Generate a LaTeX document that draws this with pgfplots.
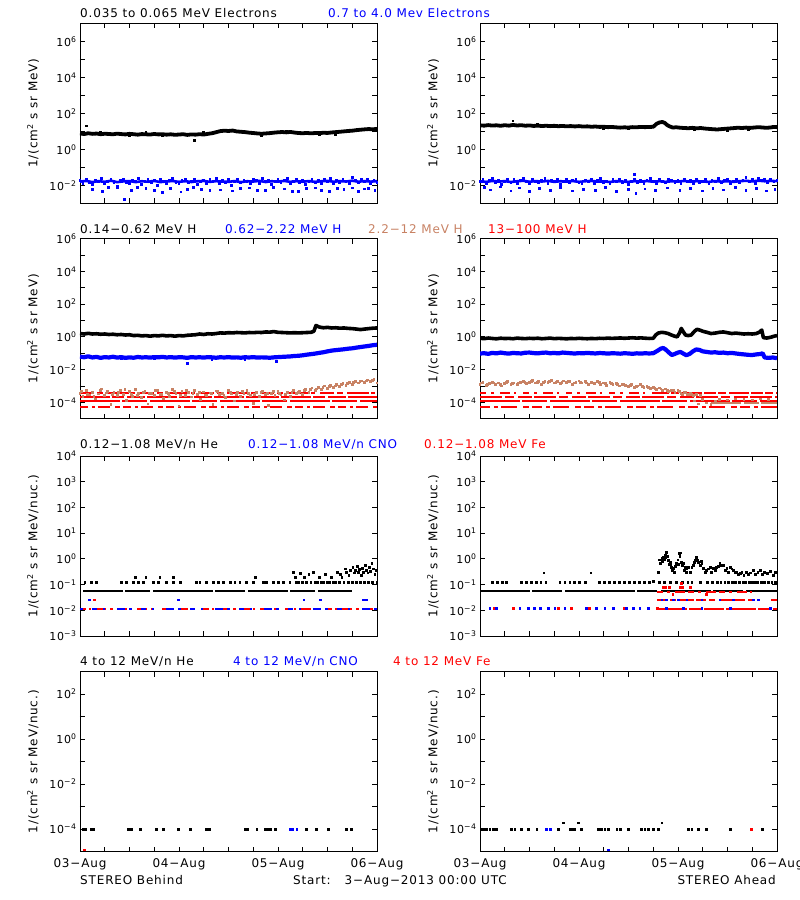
\documentclass[border=0pt]{standalone}
\usepackage{fontspec}
\setmainfont{DejaVu Sans}[LetterSpace=7]
\usepackage{pgfplots}
\pgfplotsset{compat=1.18}
\definecolor{brn}{RGB}{200,130,100}
\newcommand{\tf}{\fontsize{12}{14}\selectfont}
\newcommand{\tfs}{\fontsize{11}{13}\selectfont}
\pgfplotsset{
  myPanel/.style={scale only axis, width=297pt, height=180pt, xmin=0, xmax=72,
    xtick={0,24,48,72}, minor xtick={6,12,18,30,36,42,54,60,66}, xticklabels={},
    tick align=inside, major tick length=5pt, minor tick length=5pt,
    axis line style={line width=0.9pt}, tick style={black, line width=0.9pt},
    x tick label style={font=\tf}, y tick label style={font=\tfs}, label style={font=\tf},
    ylabel style={at={(axis description cs:-0.158,0.5)}, anchor=center},
    anchor=south west, clip=true},
  myDots/.style={only marks, mark=square*, mark size=0.9pt, mark options={line width=0pt}},
  myBand/.style={line width=#1, line join=round, line cap=butt},
  myRowA/.style={ymin=1e-3, ymax=1e7, ytick={1e-2,1,1e2,1e4,1e6}, minor ytick={1e-1,10,1e3,1e5},
    yticklabels={10\textsuperscript{−2},10\textsuperscript{0},10\textsuperscript{2},10\textsuperscript{4},10\textsuperscript{6}},
    ylabel={1/(cm\textsuperscript{2} s sr MeV)}},
  myRowB/.style={ymin=1e-5, ymax=1e6, ytick={1e-4,1e-2,1,1e2,1e4,1e6}, minor ytick={1e-3,1e-1,10,1e3,1e5},
    yticklabels={10\textsuperscript{−4},10\textsuperscript{−2},10\textsuperscript{0},10\textsuperscript{2},10\textsuperscript{4},10\textsuperscript{6}},
    ylabel={1/(cm\textsuperscript{2} s sr MeV)}},
  myRowC/.style={ymin=1e-3, ymax=1e4, ytick={1e-3,1e-2,1e-1,1,10,1e2,1e3,1e4}, yminorticks=false,
    yticklabels={10\textsuperscript{−3},10\textsuperscript{−2},10\textsuperscript{−1},10\textsuperscript{0},10\textsuperscript{1},10\textsuperscript{2},10\textsuperscript{3},10\textsuperscript{4}},
    ylabel={1/(cm\textsuperscript{2} s sr MeV/nuc.)}},
  myRowD/.style={ymin=1e-5, ymax=1e3, ytick={1e-4,1e-2,1,1e2}, minor ytick={1e-3,1e-1,10},
    yticklabels={10\textsuperscript{−4},10\textsuperscript{−2},10\textsuperscript{0},10\textsuperscript{2}},
    ylabel={1/(cm\textsuperscript{2} s sr MeV/nuc.)},
    xticklabels={03−Aug,04−Aug,05−Aug,06−Aug}, x tick label style={yshift=-3pt}},
}
\begin{document}
\begin{tikzpicture}[font=\tf]
\useasboundingbox (0,0) rectangle (800pt,900pt);

% ---------- titles ----------
\node[anchor=base west, inner sep=0pt] at (80pt,882.7pt) {0.035 to 0.065 MeV Electrons};
\node[anchor=base west, inner sep=0pt, text=blue] at (328pt,882.7pt) {0.7 to 4.0 Mev Electrons};
\node[anchor=base west, inner sep=0pt] at (80pt,666.7pt) {0.14−0.62 MeV H};
\node[anchor=base west, inner sep=0pt, text=blue] at (225pt,666.7pt) {0.62−2.22 MeV H};
\node[anchor=base west, inner sep=0pt, text=brn] at (368pt,666.7pt) {2.2−12 MeV H};
\node[anchor=base west, inner sep=0pt, text=red] at (488pt,666.7pt) {13−100 MeV H};
\node[anchor=base west, inner sep=0pt] at (80pt,451pt) {0.12−1.08 MeV/n He};
\node[anchor=base west, inner sep=0pt, text=blue] at (248pt,451pt) {0.12−1.08 MeV/n CNO};
\node[anchor=base west, inner sep=0pt, text=red] at (424pt,451pt) {0.12−1.08 MeV Fe};
\node[anchor=base west, inner sep=0pt] at (80pt,234pt) {4 to 12 MeV/n He};
\node[anchor=base west, inner sep=0pt, text=blue] at (233pt,234pt) {4 to 12 MeV/n CNO};
\node[anchor=base west, inner sep=0pt, text=red] at (393pt,234pt) {4 to 12 MeV Fe};
\node[anchor=base west, inner sep=0pt] at (80pt,15pt) {STEREO Behind};
\node[anchor=base west, inner sep=0pt] at (293pt,15pt) {Start:\ \ \ 3−Aug−2013 00:00 UTC};
\node[anchor=base east, inner sep=0pt] at (776pt,15pt) {STEREO Ahead};

% ---------- Row 1 left: Behind electrons ----------
\begin{axis}[ymode=log, myPanel, myRowA, at={(80pt,696.7pt)}]
\addplot[black, myBand=3.8pt] coordinates {(0,7.6)(1,7.0)(2,7.8)(3,7.2)(4,7.5)(5,6.9)(6,7.3)(7,7.1)(8,6.8)(9,7.4)(10,7.0)(11,6.7)(12,7.2)(13,6.9)(14,6.5)(15,7.0)(16,6.8)(17,6.6)(18,7.1)(19,6.7)(20,6.9)(21,6.5)(22,6.8)(23,6.4)(24,6.6)(25,6.9)(26,6.3)(27,6.7)(28,6.5)(29,6.9)(30,6.6)(31,7.2)(32,7.8)(33,8.9)(34,10.2)(35,10.8)(36,10.4)(37,11.0)(38,9.8)(39,9.4)(40,9.0)(41,8.4)(42,8.0)(43,7.6)(44,7.3)(45,7.6)(46,7.9)(47,8.4)(48,8.8)(49,9.1)(50,8.7)(51,9.2)(52,8.5)(53,8.0)(54,7.8)(55,8.1)(56,7.7)(57,8.0)(58,7.9)(59,8.3)(60,8.1)(61,8.6)(62,9.0)(63,9.4)(64,9.9)(65,10.4)(66,10.8)(67,11.6)(68,12.2)(69,12.8)(70,13.3)(71,12.9)(72,13.6)};
\addplot[black, myDots] coordinates {(1.5,19.6)(27.7,3.0)(12,5.6)(20,5.5)(44,6.0)(58,6.3)(5,9.0)(16,8.6)(30,8.4)(50,10.5)(62,6.8)};
\addplot[blue, myBand=2.6pt] coordinates {(0,.016)(1.5,.0175)(3,.015)(4.5,.017)(6,.0155)(7.5,.018)(9,.015)(10.5,.0165)(12,.0172)(13.5,.015)(15,.0168)(16.5,.0158)(18,.0175)(19.5,.015)(21,.0165)(22.5,.0172)(24,.0155)(25.5,.017)(27,.0152)(28.5,.0168)(30,.0175)(31.5,.0155)(33,.017)(34.5,.016)(36,.0155)(37.5,.0172)(39,.015)(40.5,.0168)(42,.0162)(43.5,.0175)(45,.0152)(46.5,.0168)(48,.016)(49.5,.0175)(51,.0155)(52.5,.017)(54,.0158)(55.5,.0172)(57,.0155)(58.5,.0168)(60,.0175)(61.5,.0158)(63,.017)(64.5,.0162)(66,.018)(67.5,.0158)(69,.0172)(70.5,.016)(72,.017)};
\addplot[blue, myDots] coordinates {(0,.018)(.75,.013)(1.5,.021)(2.25,.015)(3,.011)(3.75,.019)(4.5,.016)(5.25,.023)(6,.012)(6.75,.017)(7.5,.020)(8.25,.014)(9,.009)(9.75,.018)(10.5,.022)(11.25,.015)(12,.013)(12.75,.019)(13.5,.016)(14.25,.024)(15,.011)(15.75,.017)(16.5,.020)(17.25,.014)(18,.018)(18.75,.010)(19.5,.021)(20.25,.016)(21,.013)(21.75,.019)(22.5,.023)(23.25,.015)(24,.012)(24.75,.018)(25.5,.020)(26.25,.014)(27,.017)(27.75,.022)(28.5,.011)(29.25,.016)(30,.019)(30.75,.013)(31.5,.021)(32.25,.017)(33,.024)(33.75,.012)(34.5,.018)(35.25,.015)(36,.020)(36.75,.010)(37.5,.017)(38.25,.022)(39,.014)(39.75,.019)(40.5,.016)(41.25,.012)(42,.021)(42.75,.018)(43.5,.013)(44.25,.023)(45,.016)(45.75,.019)(46.5,.011)(47.25,.017)(48,.021)(48.75,.014)(49.5,.018)(50.25,.025)(51,.012)(51.75,.016)(52.5,.020)(53.25,.015)(54,.019)(54.75,.011)(55.5,.017)(56.25,.022)(57,.014)(57.75,.018)(58.5,.013)(59.25,.020)(60,.016)(60.75,.024)(61.5,.012)(62.25,.018)(63,.015)(63.75,.021)(64.5,.017)(65.25,.013)(66,.026)(66.75,.019)(67.5,.014)(68.25,.022)(69,.016)(69.75,.020)(70.5,.012)(71.25,.018)(72,.015)
(3,.006)(5.5,.0045)(7,.0075)(9,.007)(10.7,.0017)(12.5,.005)(14,.0072)(16,.0068)(18,.0052)(20,.004)(22,.0065)(24.5,.0042)(26,.0058)(27.5,.0072)(29.5,.006)(31.5,.0049)(34,.0055)(37,.0048)(39,.0066)(41,.007)(43,.0054)(45,.005)(47,.0072)(49.5,.0062)(51.5,.0047)(53,.0045)(55,.0068)(57,.007)(58.5,.0052)(60.5,.0044)(62.5,.0066)(64,.0058)(66,.0071)(67.5,.0046)(69,.0063)(70,.0065)(71.5,.0052)};
\end{axis}

% ---------- Row 1 right: Ahead electrons ----------
\begin{axis}[ymode=log, myPanel, myRowA, at={(480pt,696.7pt)}]
\addplot[black, myBand=3.8pt] coordinates {(0,21.5)(1,20.5)(2,22)(3,20.8)(4,21.5)(5,20.2)(6,21.8)(7,20.6)(8,22.5)(9,21)(10,21.8)(11,20.4)(12,21.2)(13,19.8)(14,20.6)(15,19.6)(16,20.3)(17,19.4)(18,20.1)(19,19.2)(20,19.8)(21,18.9)(22,19.5)(23,18.6)(24,19.4)(25,18.3)(26,18.8)(27,17.9)(28,18.4)(29,17.5)(30,17.9)(31,17.0)(32,17.4)(33,16.6)(34,16.0)(35,16.6)(36,16.2)(37,17.0)(38,16.8)(39,17.5)(40,17.0)(41,17.4)(42,17.8)(42.8,26)(43.5,31)(44.2,33)(44.8,29)(45.4,22)(46,18.5)(46.8,16)(47.5,16.8)(48.5,15.8)(49.5,15.2)(50.5,14.8)(51.5,15.5)(52.5,14.6)(53.5,15.2)(54.5,14.2)(55.5,13.6)(56.5,13.0)(57.5,12.6)(58.5,13.2)(59.5,13.8)(60.5,14.4)(61.5,15.0)(62.5,15.8)(63.5,15.2)(64.5,16.0)(65.5,15.4)(66.5,16.2)(67.5,17.0)(68.5,16.2)(69.5,15.6)(70.5,16.4)(71.2,17.5)(72,17)};
\addplot[black, myDots] coordinates {(8,37)(30,13.5)(52,12.0)(60,11.5)(14,24)(36,14)(65,13)};
\addplot[blue, myBand=2.6pt] coordinates {(0,.0165)(1.5,.0155)(3,.0175)(4.5,.016)(6,.017)(7.5,.0152)(9,.0168)(10.5,.0178)(12,.0158)(13.5,.017)(15,.0162)(16.5,.0175)(18,.0155)(19.5,.0168)(21,.016)(22.5,.0172)(24,.0155)(25.5,.0168)(27,.0175)(28.5,.016)(30,.0165)(31.5,.0152)(33,.017)(34.5,.0162)(36,.0155)(37.5,.017)(39,.016)(40.5,.0172)(42,.0158)(43.5,.017)(45,.0155)(46.5,.0168)(48,.016)(49.5,.0175)(51,.0158)(52.5,.017)(54,.0162)(55.5,.0155)(57,.0172)(58.5,.016)(60,.0168)(61.5,.0155)(63,.017)(64.5,.0178)(66,.0165)(67.5,.018)(69,.0168)(70.5,.0175)(72,.017)};
\addplot[blue, myDots] coordinates {(0,.016)(.75,.021)(1.5,.012)(2.25,.018)(3,.024)(3.75,.014)(4.5,.019)(5.25,.011)(6,.017)(6.75,.022)(7.5,.015)(8.25,.020)(9,.013)(9.75,.018)(10.5,.025)(11.25,.016)(12,.012)(12.75,.021)(13.5,.017)(14.25,.014)(15,.019)(15.75,.023)(16.5,.013)(17.25,.018)(18,.016)(18.75,.021)(19.5,.011)(20.25,.017)(21,.020)(21.75,.014)(22.5,.018)(23.25,.022)(24,.015)(24.75,.012)(25.5,.019)(26.25,.016)(27,.021)(27.75,.013)(28.5,.018)(29.25,.024)(30,.015)(30.75,.017)(31.5,.012)(32.25,.020)(33,.016)(33.75,.022)(34.5,.014)(35.25,.018)(36,.011)(36.75,.017)(37.5,.021)(38.25,.015)(39,.019)(39.75,.013)(40.5,.018)(41.25,.023)(42,.016)(42.75,.012)(43.5,.020)(44.25,.017)(45,.014)(45.75,.021)(46.5,.018)(47.25,.015)(48,.019)(48.75,.013)(49.5,.022)(50.25,.016)(51,.018)(51.75,.012)(52.5,.020)(53.25,.015)(54,.017)(54.75,.021)(55.5,.013)(56.25,.019)(57,.016)(57.75,.023)(58.5,.014)(59.25,.018)(60,.020)(60.75,.012)(61.5,.017)(62.25,.022)(63,.015)(63.75,.019)(64.5,.026)(65.25,.016)(66,.021)(66.75,.013)(67.5,.024)(68.25,.018)(69,.020)(69.75,.015)(70.5,.022)(71.25,.017)(72,.019)
(1,.0075)(2.5,.0055)(5,.008)(7.5,.0048)(9.5,.007)(12,.0045)(14.5,.0065)(17,.005)(19.5,.0072)(22.5,.0048)(25,.006)(28,.0052)(30.5,.0075)(33,.0046)(36,.0058)(37.5,.04)(37.8,.0036)(40,.0062)(42.5,.005)(45.5,.007)(48.5,.0052)(51,.0066)(54,.0048)(56.5,.0068)(59,.0055)(62,.0072)(64.5,.005)(67,.0064)(69.5,.0048)(71.5,.0058)};
\end{axis}

% ---------- Row 2 left: Behind H ----------
\begin{axis}[ymode=log, myPanel, myRowB, at={(80pt,481.3pt)}]
\addplot[red, line width=2pt, dash pattern=on 14pt off 3pt on 6pt off 4pt on 22pt off 2pt on 4pt off 5pt] coordinates {(0,3.8e-4)(72,3.8e-4)};
\addplot[red, line width=2pt, dash pattern=on 30pt off 2pt on 12pt off 3pt on 18pt off 2pt] coordinates {(0,2e-4)(72,2e-4)};
\addplot[red, line width=2pt, dash pattern=on 40pt off 2pt on 25pt off 3pt] coordinates {(0,1.2e-4)(72,1.2e-4)};
\addplot[red, line width=2pt, dash pattern=on 8pt off 4pt on 3pt off 3pt on 12pt off 5pt on 5pt off 3pt] coordinates {(0,5.3e-5)(72,5.3e-5)};
\addplot[brn, myDots] coordinates {(0,3.5e-4)(.75,2.2e-4)(1.5,5.5e-4)(2.25,2.8e-4)(3,4.2e-4)(3.75,1.6e-4)(4.5,3.2e-4)(5.25,6.5e-4)(6,2.5e-4)(6.75,4.8e-4)(7.5,7e-5)(8.25,3.8e-4)(9,2.6e-4)(9.75,5e-4)(10.5,3e-4)(11.25,1.3e-4)(12,4.4e-4)(12.75,2.4e-4)(13.5,6e-4)(14.25,3.4e-4)(15,2e-4)(15.75,4.6e-4)(16.5,8e-5)(17.25,3.6e-4)(18,2.7e-4)(18.75,5.2e-4)(19.5,3.1e-4)(20.25,1.8e-4)(21,4e-4)(21.75,2.3e-4)(22.5,5.8e-4)(23.25,3.3e-4)(24,6e-5)(24.75,4.5e-4)(25.5,2.6e-4)(26.25,3.9e-4)(27,2.1e-4)(27.75,5.4e-4)(28.5,3e-4)(29.25,1.5e-4)(30,4.3e-4)(30.75,2.5e-4)(31.5,3.7e-4)(32.25,7.5e-5)(33,4.9e-4)(33.75,2.9e-4)(34.5,3.5e-4)(35.25,2e-4)(36,5e-4)(36.75,3.2e-4)(37.5,1.2e-4)(38.25,4.1e-4)(39,2.4e-4)(39.75,3.6e-4)(40.5,5.5e-4)(41.25,2.7e-4)(42,8.5e-5)(42.75,3.8e-4)(43.5,2.2e-4)(44.25,4.6e-4)(45,3e-4)(45.75,6.5e-5)(46.5,3.4e-4)(47.25,2.5e-4)(48,4.4e-4)(48.75,2.8e-4)(49.5,1.4e-4)(50.25,3.9e-4)(51,2.3e-4)(51.75,5e-4)(52.5,3.3e-4)(53.25,4.8e-4)(54,3e-4)(54.75,6e-4)(55.5,4e-4)(56.25,7.5e-4)(57,5e-4)(57.75,8.5e-4)(58.5,6e-4)(59.25,1e-3)(60,7e-4)(60.75,1.1e-3)(61.5,8e-4)(62.25,1.2e-3)(63,9e-4)(63.75,1.4e-3)(64.5,1.1e-3)(65.25,1.7e-3)(66,1.3e-3)(66.75,1.9e-3)(67.5,1.5e-3)(68.25,2e-3)(69,1.6e-3)(69.75,2.3e-3)(70.5,1.8e-3)(71.25,2.5e-3)(72,1.5e-3)
(.4,4.5e-4)(1.9,3e-4)(3.4,2.4e-4)(4.9,5e-4)(6.4,3.7e-4)(7.9,2.9e-4)(9.4,4e-4)(10.9,5.8e-4)(12.4,3.1e-4)(13.9,2.6e-4)(15.4,4.2e-4)(16.9,3.4e-4)(18.4,5.1e-4)(19.9,2.9e-4)(21.4,3.6e-4)(22.9,4.4e-4)(24.4,2.7e-4)(25.9,5.3e-4)(27.4,3.5e-4)(28.9,4.1e-4)(30.4,2.8e-4)(31.9,3.3e-4)(33.4,4.6e-4)(34.9,2.6e-4)(36.4,3.9e-4)(37.9,3e-4)(39.4,4.7e-4)(40.9,3.4e-4)(42.4,2.9e-4)(43.9,4e-4)(45.4,3.3e-4)(46.9,4.5e-4)(48.4,3.6e-4)(49.9,3e-4)(51.4,4.2e-4)(52.9,3.9e-4)(54.4,5.2e-4)(55.9,6e-4)(57.4,6.6e-4)(58.9,8e-4)(60.4,9e-4)(61.9,1e-3)(63.4,1.2e-3)(64.9,1.4e-3)(66.4,1.6e-3)(67.9,1.8e-3)(69.4,2e-3)(70.9,2.1e-3)};
\addplot[blue, myBand=4.2pt] coordinates {(0,.062)(1,.057)(2,.065)(3,.055)(4,.060)(5,.052)(6,.058)(7,.055)(8,.061)(9,.054)(10,.058)(11,.052)(12,.056)(13,.053)(14,.059)(15,.055)(16,.057)(17,.054)(18,.058)(19,.056)(20,.060)(21,.055)(22,.058)(23,.054)(24,.057)(25,.056)(26,.052)(27,.058)(28,.055)(29,.057)(30,.054)(31,.058)(32,.056)(33,.053)(34,.057)(35,.055)(36,.058)(37,.054)(38,.056)(39,.053)(40,.057)(41,.055)(42,.058)(43,.054)(44,.056)(45,.055)(46,.053)(47,.056)(48,.058)(49,.060)(50,.062)(51,.064)(52,.068)(53,.070)(54,.075)(55,.082)(56,.088)(57,.095)(58,.105)(59,.115)(60,.13)(61,.145)(62,.155)(63,.165)(64,.175)(65,.19)(66,.20)(67,.22)(68,.24)(69,.26)(70,.28)(71,.31)(72,.33)};
\addplot[blue, myDots] coordinates {(26,.024)(47.7,.03)(32,.042)(10,.045)(18,.044)(40,.043)};
\addplot[black, myBand=3.6pt] coordinates {(0,1.6)(1,1.5)(2,1.65)(3,1.5)(4,1.55)(5,1.45)(6,1.5)(7,1.4)(8,1.45)(9,1.35)(10,1.4)(11,1.3)(12,1.35)(13,1.2)(14,1.25)(15,1.15)(16,1.2)(17,1.1)(18,1.2)(19,1.15)(20,1.25)(21,1.15)(22,1.2)(23,1.1)(24,1.2)(25,1.15)(26,1.25)(27,1.3)(28,1.35)(29,1.5)(30,1.4)(31,1.55)(32,1.5)(33,1.6)(34,1.75)(35,1.7)(36,1.8)(37,1.75)(38,1.85)(39,1.8)(40,1.75)(41,1.85)(42,1.8)(43,1.9)(44,1.85)(45,2.0)(46,1.95)(47,2.1)(48,1.9)(49,1.85)(50,1.8)(51,1.75)(52,1.8)(53,1.75)(54,1.8)(55,1.85)(56,1.9)(56.7,2.2)(57.2,5.0)(58,4.0)(59,3.6)(60,3.8)(61,3.5)(62,3.6)(63,3.4)(64,3.5)(65,3.3)(66,3.2)(67,3.0)(68,2.8)(69,3.0)(70,3.2)(71,3.4)(72,3.5)};
\end{axis}

% ---------- Row 2 right: Ahead H ----------
\begin{axis}[ymode=log, myPanel, myRowB, at={(480pt,481.3pt)}]
\addplot[red, line width=2pt, dash pattern=on 6pt off 5pt on 3pt off 6pt on 10pt off 4pt on 2pt off 7pt] coordinates {(0,3.8e-4)(43,3.8e-4)};
\addplot[red, line width=2pt, dash pattern=on 12pt off 2pt on 8pt off 3pt on 20pt off 2pt] coordinates {(43,3.8e-4)(72,3.8e-4)};
\addplot[red, line width=2pt, dash pattern=on 22pt off 3pt on 9pt off 4pt on 14pt off 2pt] coordinates {(0,2e-4)(72,2e-4)};
\addplot[red, line width=2pt, dash pattern=on 40pt off 2pt on 25pt off 3pt] coordinates {(0,1.2e-4)(72,1.2e-4)};
\addplot[red, line width=2pt, dash pattern=on 10pt off 4pt on 4pt off 3pt on 16pt off 6pt on 6pt off 3pt] coordinates {(0,5.3e-5)(72,5.3e-5)};
\addplot[brn, line width=2pt, dash pattern=on 30pt off 3pt on 15pt off 2pt] coordinates {(56,8.5e-5)(72,8.5e-5)};
\addplot[brn, myDots] coordinates {(0,1.3e-3)(.75,1.6e-3)(1.5,1.1e-3)(2.25,1.4e-3)(3,1.7e-3)(3.75,1.2e-3)(4.5,1.5e-3)(5.25,1e-3)(6,1.4e-3)(6.75,1.8e-3)(7.5,1.3e-3)(8.25,1.5e-3)(9,1.2e-3)(9.75,1.6e-3)(10.5,1.9e-3)(11.25,1.4e-3)(12,1.7e-3)(12.75,2.1e-3)(13.5,1.5e-3)(14.25,1.8e-3)(15,1.3e-3)(15.75,1.9e-3)(16.5,1.6e-3)(17.25,2.2e-3)(18,1.5e-3)(18.75,1.8e-3)(19.5,1.4e-3)(20.25,2e-3)(21,1.6e-3)(21.75,1.9e-3)(22.5,1.3e-3)(23.25,1.7e-3)(24,2e-3)(24.75,1.5e-3)(25.5,1.8e-3)(26.25,1.2e-3)(27,1.6e-3)(27.75,1.4e-3)(28.5,1.9e-3)(29.25,1.3e-3)(30,1.5e-3)(30.75,1.1e-3)(31.5,1.6e-3)(32.25,1.3e-3)(33,1.4e-3)(33.75,1e-3)(34.5,1.3e-3)(35.25,1.1e-3)(36,9e-4)(36.75,1.2e-3)(37.5,8e-4)(38.25,1e-3)(39,1.2e-3)(39.75,8.5e-4)(40.5,9.5e-4)(41.25,7e-4)(42,8e-4)(42.75,6e-4)(43.5,7.5e-4)(44.25,5.5e-4)(45,6.5e-4)(45.75,4.5e-4)(46.5,5.5e-4)(47.25,4e-4)(48,5e-4)(48.75,3.5e-4)(49.5,4.2e-4)(50.25,3e-4)(51,3.6e-4)(51.75,2.6e-4)(52.5,3e-4)
(.4,1.5e-3)(1.9,1.3e-3)(3.4,1.5e-3)(4.9,1.3e-3)(6.4,1.6e-3)(7.9,1.4e-3)(9.4,1.5e-3)(10.9,1.6e-3)(12.4,1.8e-3)(13.9,1.6e-3)(15.4,1.7e-3)(16.9,1.8e-3)(18.4,1.7e-3)(19.9,1.6e-3)(21.4,1.8e-3)(22.9,1.5e-3)(24.4,1.7e-3)(25.9,1.5e-3)(27.4,1.5e-3)(28.9,1.6e-3)(30.4,1.4e-3)(31.9,1.4e-3)(33.4,1.2e-3)(34.9,1.2e-3)(36.4,1.05e-3)(37.9,9.5e-4)(39.4,9e-4)(40.9,8.5e-4)(42.4,7e-4)(43.9,6.5e-4)(45.4,5.5e-4)(46.9,5e-4)(48.4,4.5e-4)(49.9,3.8e-4)(51.4,3.2e-4)
(52,1.2e-4)(53,8e-5)(54,1.5e-4)(55,9e-5)(56,7.5e-5)(57,1.1e-4)(58,1.5e-4)(60,1.4e-4)(62,1.6e-4)(64,1.5e-4)(66,1.4e-4)(68,1.6e-4)(70,1.5e-4)(49,3e-4)(51,2.8e-4)(53.5,2.6e-4)};
\addplot[blue, myBand=4.2pt] coordinates {(0,.096)(1,.10)(2,.092)(3,.105)(4,.098)(5,.11)(6,.10)(7,.095)(8,.104)(9,.10)(10,.097)(11,.108)(12,.11)(13,.102)(14,.098)(15,.106)(16,.11)(17,.10)(18,.104)(19,.098)(20,.11)(21,.105)(22,.10)(23,.096)(24,.102)(25,.099)(26,.105)(27,.10)(28,.097)(29,.103)(30,.10)(31,.095)(32,.10)(33,.098)(34,.094)(35,.10)(36,.097)(37,.092)(38,.099)(39,.095)(40,.10)(41,.097)(42,.10)(43,.14)(43.8,.19)(44.4,.21)(45,.17)(45.8,.11)(46.5,.078)(47.2,.09)(48,.11)(48.6,.12)(49.3,.095)(50,.076)(50.8,.09)(51.6,.13)(52.4,.17)(53.2,.16)(54,.13)(55,.12)(56,.11)(57,.115)(58,.105)(59,.11)(60,.10)(61,.105)(62,.097)(63,.09)(64,.085)(65,.08)(66,.078)(67,.085)(68,.09)(68.5,.10)(69,.055)(70,.052)(71,.055)(72,.05)};
\addplot[black, myBand=3.6pt] coordinates {(0,.82)(1,.78)(2,.85)(3,.80)(4,.76)(5,.83)(6,.79)(7,.81)(8,.77)(9,.84)(10,.80)(11,.78)(12,.82)(13,.79)(14,.83)(15,.77)(16,.80)(17,.84)(18,.78)(19,.81)(20,.79)(21,.76)(22,.80)(23,.78)(24,.82)(25,.79)(26,.77)(27,.80)(28,.78)(29,.82)(30,.80)(31,.84)(32,.81)(33,.83)(34,.86)(35,.82)(36,.85)(37,.88)(38,.84)(39,.87)(40,.83)(41,.80)(42,.82)(42.6,1.3)(43.2,1.7)(44,1.9)(44.8,1.8)(45.6,1.6)(46.4,1.3)(47.2,1.1)(47.8,1.0)(48.4,1.8)(48.8,3.3)(49.2,2.2)(49.8,1.3)(50.5,1.2)(51.2,1.3)(52,2.2)(52.6,2.9)(53.3,2.6)(54,2.2)(55,1.9)(56,1.6)(57,1.7)(58,1.9)(59,2.0)(60,1.8)(61,1.6)(62,1.7)(63,1.6)(64,1.5)(65,1.55)(66,1.5)(67,1.6)(67.8,2.0)(68.3,2.6)(68.7,0.9)(69.5,0.85)(70.5,0.95)(71.3,1.1)(72,1.2)};
\end{axis}

% ---------- Row 3 left: Behind ions ----------
\begin{axis}[ymode=log, myPanel, myRowC, at={(80pt,264pt)}]
\addplot[black, line width=1.8pt, dash pattern=on 40pt off 2pt on 25pt off 3pt on 60pt off 2pt on 30pt off 3pt] coordinates {(0.8,.055)(66,.055)};
\addplot[black, myDots] coordinates {(1.2,.12)(2.8,.12)(4.0,.12)(10,.12)(11.3,.12)(13,.12)(13.4,.19)(14.2,.12)(15.4,.12)(16,.19)(17.8,.12)(19,.12)(19.4,.19)(21,.12)(22.7,.12)(22.7,.19)(24.3,.12)(28.3,.12)(29.1,.12)(30.7,.12)(32.4,.12)(33.6,.12)(34.8,.12)(36.4,.12)(37.6,.12)(38.8,.12)(40.4,.12)(42.1,.12)(42.5,.19)(44.5,.12)(45.3,.12)(46.9,.12)(48.1,.12)(49.3,.12)(50.9,.12)(51.8,.29)(52.2,.19)(52.5,.12)(53,.12)(53.5,.27)(54,.12)(54.5,.19)(55,.12)(55.5,.24)(56,.12)(56.6,.29)(57,.12)(57.5,.12)(58,.19)(58.5,.12)(59,.12)(59.5,.25)(60,.12)(60.5,.12)(61,.19)(61.5,.12)(62,.12)(62.4,.30)(63,.12)(63.2,.25)(63.5,.19)(64,.12)(64.3,.40)(64.6,.30)(65,.12)(65.2,.22)(65.6,.35)(66,.12)(66.2,.45)(66.5,.28)(66.8,.35)(67,.12)(67.2,.50)(67.5,.30)(67.8,.38)(68,.12)(68.2,.22)(68.5,.42)(68.8,.30)(69,.12)(69.2,.55)(69.5,.35)(69.8,.28)(70,.12)(70.2,.45)(70.5,.32)(70.8,.68)(71,.12)(71.2,.40)(71.5,.25)(71.8,.35)(72,.12)};
\addplot[red, line width=2pt, dash pattern=on 6pt off 3pt on 2pt off 5pt on 10pt off 4pt on 3pt off 8pt] coordinates {(0,.0117)(72,.0117)};
\addplot[blue, line width=2pt, dash pattern=on 3pt off 9pt on 5pt off 6pt on 2pt off 12pt on 8pt off 4pt] coordinates {(0,.0117)(72,.0117)};
\addplot[blue, myDots] coordinates {(2.3,.025)(23.9,.025)(54.3,.025)(58.3,.025)(68.8,.025)(69.4,.025)};
\addplot[red, myDots] coordinates {(3.5,.025)};
\end{axis}

% ---------- Row 3 right: Ahead ions ----------
\begin{axis}[ymode=log, myPanel, myRowC, at={(480pt,264pt)}]
\addplot[black, line width=1.8pt, dash pattern=on 50pt off 2pt on 30pt off 3pt on 70pt off 2pt on 20pt off 4pt] coordinates {(0,.055)(72,.055)};
\addplot[black, myDots] coordinates {(3.1,.12)(4.3,.12)(5.5,.12)(6.5,.12)(10,.12)(11.2,.12)(12.4,.12)(13.6,.12)(14.8,.12)(16,.12)(15.5,.28)(19.4,.12)(20.6,.12)(21.8,.12)(23,.12)(24.2,.12)(25.6,.12)(26.9,.28)(29,.12)(30.2,.12)(31.4,.12)(32.6,.12)(33.8,.12)(35,.12)(36.2,.12)(37.4,.12)(38.6,.12)(39.8,.12)(41,.12)(42,.13)
(43.5,.12)(44.8,.12)(46.2,.12)(47.6,.12)(49,.12)(50.4,.12)(51.4,.12)(53.5,.12)(55.2,.12)(56.4,.12)(57.6,.12)(58.4,.12)(59.4,.12)(60.2,.12)(61.2,.12)(62,.12)(63,.12)(63.8,.12)(64.4,.12)(65.4,.12)(66,.12)(66.6,.12)(67.2,.12)(68.2,.12)(69,.12)(70,.12)(70.8,.12)(71.6,.12)
(43.3,.30)(43.7,.64)(44.1,1.06)(44.5,1.15)(44.9,1.35)(45.3,1.8)(45.7,.86)(46.1,.74)(46.5,.47)(46.9,.41)(47.7,.64)(48.4,1.56)(48.7,1.7)(48.9,.74)(49.3,.64)(49.8,.47)(50.2,.41)(51,.30)(51.8,.55)(52.2,.86)(52.6,1.0)(53,.74)(53.8,.64)(54.2,.41)(55,.35)(55.8,.47)(56.6,.41)(58.2,.64)(59.1,.55)(59.9,.41)(60.7,.47)(61.5,.35)(62.3,.30)(63.1,.26)(64.7,.30)(66.3,.35)(68,.35)(69.6,.26)(70.4,.33)(71.2,.22)
(43.5,.9)(44.3,.8)(44.7,.95)(45.1,1.1)(45.5,1.2)(45.9,.6)(46.3,.55)(46.7,.35)(47.1,.3)(47.4,.5)(48,.9)(48.2,.6)(48.5,1.2)(49.1,.55)(49.5,.35)(50,.3)(50.5,.45)(51.4,.45)(52,.7)(52.4,1.1)(52.8,.9)(53.4,.55)(53.6,.8)(54.6,.3)(55.4,.4)(56.2,.3)(57,.35)(57.4,.45)(57.8,.5)(58.6,.55)(59.5,.35)(60.3,.3)(61.1,.4)(61.9,.3)(62.7,.25)(63.5,.3)(64,.22)(65.1,.25)(65.6,.28)(66.8,.24)(67.4,.3)(68.5,.25)(69,.3)(71.7,.3)};
\addplot[red, line width=2pt, dash pattern=on 30pt off 2pt on 12pt off 3pt on 20pt off 2pt] coordinates {(43,.0117)(72,.0117)};
\addplot[red, line width=2pt, dash pattern=on 10pt off 3pt on 6pt off 4pt on 14pt off 2pt] coordinates {(43,.025)(66,.025)};
\addplot[red, line width=2pt, dash pattern=on 6pt off 4pt on 3pt off 5pt on 10pt off 3pt] coordinates {(43,.053)(66,.053)};
\addplot[red, line width=2pt] coordinates {(70.5,.025)(72,.025)};
\addplot[red, myDots] coordinates {(2.4,.0117)(3.6,.0117)(8.1,.0117)(19,.0117)(22.2,.0117)(26.5,.0117)(35,.0117)(43,.0117)
(44.5,.079)(44.9,.079)(46,.079)(48.5,.079)(49,.079)(51,.079)(48.9,.107)(46.8,.04)(55,.04)};
\addplot[blue, myDots] coordinates {(2.4,.0117)(4,.0117)(9.7,.0117)(11.7,.0117)(13.3,.0117)(14.6,.0117)(16.6,.0117)(18.2,.0117)(20.6,.0117)(25.9,.0117)(28.3,.0117)(30.3,.0117)(32.4,.0117)(35.6,.0117)(37.2,.0117)(38.8,.0117)(40.9,.0117)(45.3,.0117)(49.3,.0117)(53.8,.0117)(60.7,.0117)(70.4,.0117)
(44.1,.025)(45.3,.025)(46.9,.025)(48.1,.025)(50.2,.025)(53.8,.025)(58.2,.025)(61.5,.025)(66.3,.025)(67.5,.025)};
\end{axis}

% ---------- Row 4 left: Behind 4-12 MeV ----------
\begin{axis}[ymode=log, myPanel, myRowD, at={(80pt,48.3pt)}]
\addplot[black, myDots] coordinates {(0.8,1e-4)(1.4,1e-4)(2.8,1e-4)(3.4,1e-4)(11.7,1e-4)(12.5,1e-4)(14.6,1e-4)(18.6,1e-4)(20.2,1e-4)(23.9,1e-4)(26.7,1e-4)(30.7,1e-4)(31.3,1e-4)(40,1e-4)(40.6,1e-4)(42.9,1e-4)(44.9,1e-4)(45.7,1e-4)(46.3,1e-4)(47.3,1e-4)(55,1e-4)(57.4,1e-4)(60.3,1e-4)(64.7,1e-4)(65.9,1e-4)};
\addplot[blue, myDots] coordinates {(51,1e-4)(51.6,1e-4)(52.6,1e-4)};
\addplot[red, myDots] coordinates {(1.1,1.2e-5)};
\end{axis}

% ---------- Row 4 right: Ahead 4-12 MeV ----------
\begin{axis}[ymode=log, myPanel, myRowD, at={(480pt,48.3pt)}]
\addplot[black, myDots] coordinates {(0.4,1e-4)(1,1e-4)(1.6,1e-4)(2.4,1e-4)(3.2,1e-4)(4,1e-4)(7.7,1e-4)(8.5,1e-4)(10.1,1e-4)(11.7,1e-4)(13.8,1e-4)(19,1e-4)(21.8,1e-4)(22.4,1e-4)(23,1e-4)(24.7,1e-4)(28.7,1e-4)(29.5,1e-4)(30.3,1e-4)(31.1,1e-4)(33.2,1e-4)(34,1e-4)(36,1e-4)(39.2,1e-4)(40,1e-4)(40.9,1e-4)(42.1,1e-4)(43.3,1e-4)(50.6,1e-4)(51.4,1e-4)(53,1e-4)(55,1e-4)(60.7,1e-4)(68.4,1e-4)
(20.2,1.9e-4)(23.9,1.9e-4)(44.1,1.9e-4)};
\addplot[blue, myDots] coordinates {(16.2,1e-4)(17,1e-4)(31.1,1.2e-5)};
\addplot[red, myDots] coordinates {(65.9,1e-4)};
\end{axis}
\end{tikzpicture}
\end{document}
